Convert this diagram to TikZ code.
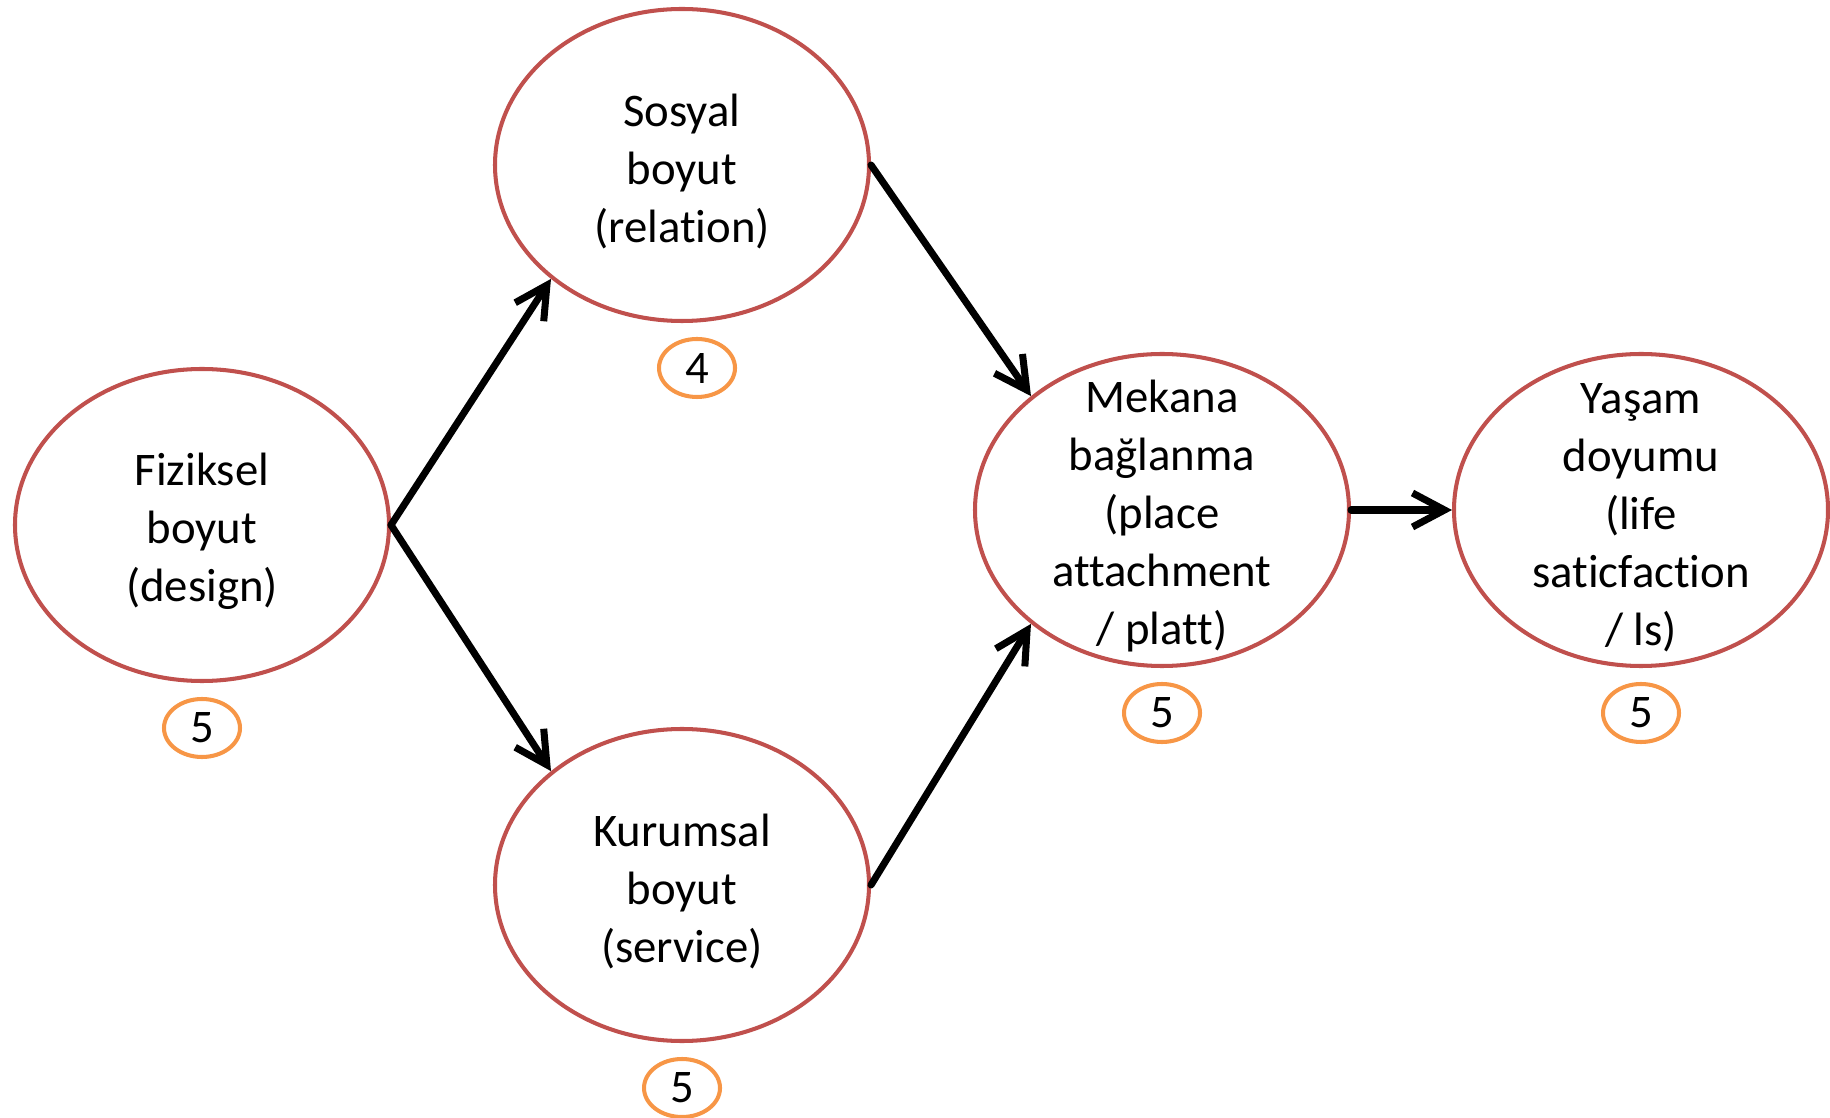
\documentclass[tikz,border=0pt]{standalone}
\usepackage{fontspec}
\setmainfont{Carlito}[Ligatures=NoCommon]
\usepackage{xcolor}
\usepackage{tikz}
\usetikzlibrary{shapes, arrows.meta, positioning}
\definecolor{ovalred}{HTML}{C0504D}
\definecolor{scoreorange}{HTML}{F79646}
\newcommand{\ovalstrut}{\rule{0pt}{12.8pt}}

\begin{document}
\begin{tikzpicture}
  [
    Oval/.style={ellipse, draw=ovalred, fill=white, line width=1.15pt, inner sep=-1cm,
      minimum width=3.74cm, minimum height=3.12cm, align=center,
      font=\fontsize{13.3}{16.5}\selectfont},
    Score/.style={ellipse, draw=scoreorange, line width=1.15pt, inner sep=-1cm,
      minimum width=0.76cm, minimum height=0.58cm, font=\fontsize{13.3}{16.5}\selectfont},
    Arrow/.style={-{Straight Barb[length=3.2mm, width=3.4mm]}, draw, line width=2pt,
      line cap=round, line join=round}
  ]
  \useasboundingbox (0, 0) rectangle (18.3, -11.18);
  % Nodes
  \node[Oval] (fiz) at(2.02, -5.25) {\ovalstrut Fiziksel\\boyut\\(design)};
  \node[Oval] (sos) at(6.82, -1.65) {\ovalstrut Sosyal\\boyut\\(relation)};
  \node[Oval] (kur) at(6.82, -8.85) {\ovalstrut Kurumsal\\boyut\\(service)};
  \node[Oval] (mek) at(11.62, -5.10) {\ovalstrut Mekana\\ba\u{g}lanma\\(place\\attachment\\/ platt)};
  \node[Oval] (yas) at(16.41, -5.10) {\ovalstrut Ya\c{s}am\\doyumu\\(life\\saticfaction\\/ ls)};
  % Scores
  \node[Score] (fizs) at(2.02, -7.28) {5};
  \node[Score] (soss) at(6.97, -3.68) {4};
  \node[Score] (kurs) at(6.82, -10.88) {5};
  \node[Score] (meks) at(11.62, -7.13) {5};
  \node[Score] (yass) at(16.41, -7.13) {5};
  % Lines
  \path [Arrow] (fiz.east) -- (sos.221);
  \path [Arrow] (fiz.east) -- (kur.139);
  \path [Arrow] (sos.east) -- (mek.139);
  \path [Arrow] (kur.east) -- (mek.221);
  \path [Arrow] (mek.east) -- (yas.west);
\end{tikzpicture}
\end{document}
